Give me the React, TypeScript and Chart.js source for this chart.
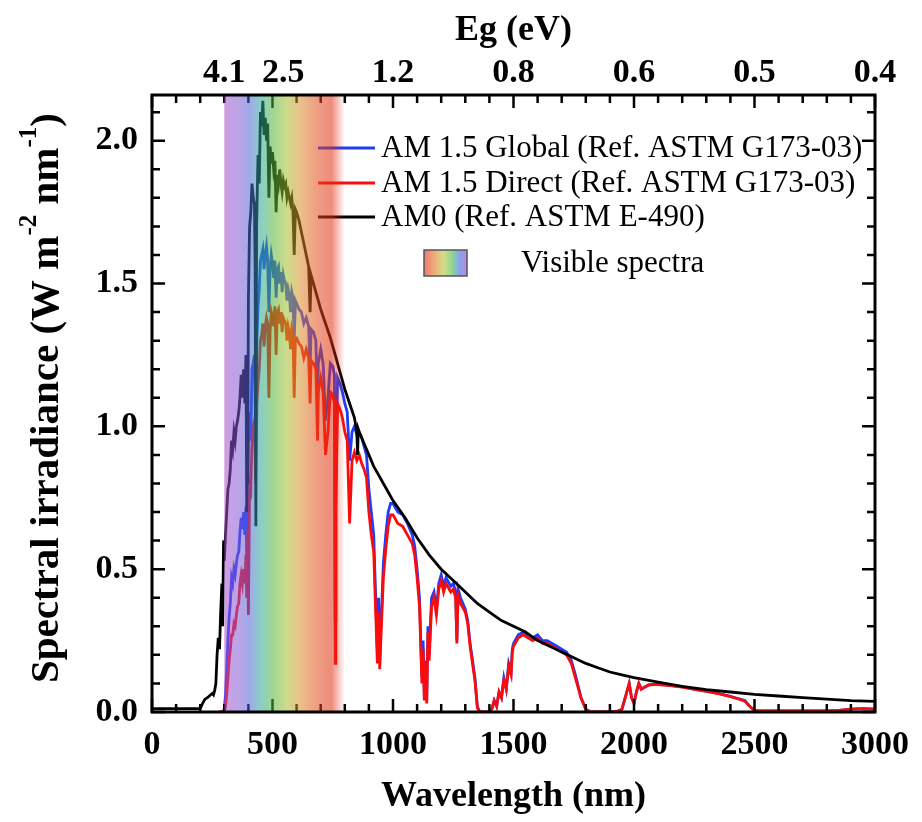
import React, { useEffect, useRef } from 'react';
import { Chart, registerables } from 'chart.js';

Chart.register(...registerables);

// ---------------- data ----------------
const am0Wavelength = [
  0, 100, 200, 210, 220, 230, 240, 250, 255, 260,
  265, 270, 275, 280, 285, 290, 293, 297, 300, 305,
  310, 315, 320, 325, 330, 335, 340, 345, 350, 355,
  360, 365, 370, 375, 380, 385, 390, 393, 395, 397,
  400, 405, 410, 415, 420, 425, 428, 431, 434, 440,
  445, 450, 455, 460, 465, 470, 475, 480, 485, 490,
  495, 500, 505, 510, 515, 520, 525, 530, 535, 540,
  545, 550, 555, 560, 565, 570, 575, 580, 585, 590,
  595, 600, 610, 620, 630, 640, 650, 656, 660, 670,
  680, 690, 700, 720, 740, 760, 780, 800, 820, 840,
  850, 853, 856, 860, 880, 900, 920, 940, 960, 980,
  1000, 1050, 1100, 1150, 1200, 1250, 1300, 1350, 1400, 1450,
  1500, 1550, 1600, 1650, 1700, 1750, 1800, 1850, 1900, 1950,
  2000, 2100, 2200, 2300, 2400, 2500, 2600, 2700, 2800, 2900,
  3000,
];
const am0Irradiance = [
  0.012, 0.012, 0.012, 0.03, 0.045, 0.05, 0.058, 0.065, 0.06, 0.075,
  0.1, 0.2, 0.26, 0.22, 0.35, 0.45, 0.3, 0.6, 0.53, 0.62,
  0.7, 0.78, 0.8, 0.85, 0.95, 0.92, 0.98, 0.95, 1.0, 1.02,
  1.05, 1.1, 1.18, 1.1, 1.2, 1.08, 1.25, 0.7, 1.15, 0.8,
  1.45, 1.7, 1.75, 1.85, 1.8, 1.78, 1.55, 0.65, 1.7, 1.95,
  1.85, 2.1, 2.05, 2.14, 2.02, 2.08, 2.0, 2.06, 1.8, 1.98,
  1.92, 1.96, 1.9, 1.93, 1.75, 1.88, 1.85, 1.9, 1.85, 1.82,
  1.86, 1.84, 1.85, 1.8, 1.82, 1.8, 1.78, 1.8, 1.75, 1.6,
  1.76, 1.75, 1.72, 1.68, 1.64, 1.6, 1.56, 1.4, 1.53, 1.5,
  1.47, 1.44, 1.41, 1.36, 1.31, 1.25, 1.19, 1.13, 1.08, 1.03,
  0.98, 0.9, 0.99, 0.98, 0.94, 0.9, 0.86, 0.83, 0.8, 0.77,
  0.74, 0.68, 0.61, 0.55, 0.5, 0.46, 0.42, 0.38, 0.35, 0.32,
  0.3, 0.28, 0.25, 0.23, 0.21, 0.19, 0.17, 0.155, 0.14, 0.13,
  0.12, 0.105, 0.09, 0.078, 0.07, 0.062, 0.056, 0.05, 0.045, 0.04,
  0.037,
];

const am15Wavelength = [
  280, 295, 300, 305, 310, 315, 320, 325, 330, 335,
  340, 345, 350, 355, 360, 365, 370, 375, 380, 385,
  390, 393, 397, 400, 405, 410, 415, 420, 425, 430,
  435, 440, 445, 450, 455, 460, 465, 470, 475, 480,
  485, 490, 495, 500, 505, 510, 515, 520, 525, 530,
  535, 540, 545, 550, 555, 560, 565, 570, 575, 580,
  585, 590, 595, 600, 610, 620, 630, 640, 650, 656,
  660, 670, 680, 687, 690, 700, 710, 720, 730, 740,
  750, 757, 760, 763, 770, 780, 790, 800, 810, 820,
  830, 840, 850, 860, 870, 880, 890, 900, 910, 920,
  930, 935, 940, 945, 950, 960, 970, 980, 990, 1000,
  1020, 1040, 1060, 1080, 1090, 1100, 1110, 1120, 1125, 1130,
  1135, 1140, 1145, 1150, 1160, 1170, 1180, 1190, 1200, 1210,
  1220, 1240, 1250, 1260, 1265, 1270, 1280, 1300, 1310, 1320,
  1330, 1340, 1350, 1360, 1380, 1400, 1410, 1420, 1430, 1440,
  1450, 1460, 1470, 1480, 1490, 1495, 1500, 1520, 1540, 1560,
  1580, 1600, 1620, 1640, 1660, 1680, 1700, 1720, 1740, 1760,
  1780, 1800, 1820, 1850, 1900, 1930, 1950, 1970, 1980, 1990,
  2000, 2010, 2020, 2030, 2040, 2060, 2080, 2100, 2150, 2200,
  2250, 2300, 2350, 2400, 2420, 2440, 2460, 2480, 2500, 2520,
  2600, 2700, 2800, 2850, 2900, 2950, 3000,
];
const am15Global = [
  0, 0, 0.01, 0.06, 0.15, 0.25, 0.33, 0.38, 0.47, 0.45,
  0.5, 0.48, 0.52, 0.55, 0.56, 0.63, 0.68, 0.64, 0.7, 0.62,
  0.72, 0.55, 0.6, 0.95, 1.05, 0.95, 1.2, 1.22, 1.25, 0.95,
  1.3, 1.42, 1.48, 1.58, 1.6, 1.62, 1.55, 1.6, 1.63, 1.58,
  1.4, 1.55, 1.6, 1.57, 1.52, 1.58, 1.45, 1.55, 1.56, 1.5,
  1.54, 1.47, 1.53, 1.51, 1.5, 1.44, 1.48, 1.46, 1.4, 1.47,
  1.45, 1.3, 1.44, 1.43, 1.41, 1.4, 1.36, 1.38, 1.35, 1.2,
  1.34, 1.33, 1.3, 1.05, 1.22, 1.27, 1.22, 1.02, 1.1, 1.22,
  1.21, 1.18, 0.32, 0.8, 1.17, 1.15, 1.12, 1.08, 1.05, 0.88,
  0.98, 1.0, 0.97, 0.98, 0.96, 0.93, 0.9, 0.78, 0.7, 0.62,
  0.35, 0.22, 0.4, 0.18, 0.3, 0.52, 0.62, 0.7, 0.73, 0.73,
  0.7, 0.69, 0.66, 0.62, 0.58, 0.5, 0.4, 0.12, 0.25, 0.05,
  0.18, 0.04, 0.3, 0.2, 0.4, 0.42, 0.36, 0.45, 0.48, 0.44,
  0.47, 0.44, 0.45, 0.42, 0.25, 0.43, 0.4, 0.36, 0.32, 0.24,
  0.18, 0.12, 0.02, 0, 0, 0, 0.01, 0.04, 0.02, 0.07,
  0.05, 0.12, 0.08, 0.17, 0.14, 0.22, 0.24, 0.27, 0.28, 0.27,
  0.26, 0.27, 0.25, 0.25, 0.24, 0.23, 0.22, 0.21, 0.18, 0.12,
  0.05, 0.01, 0, 0, 0, 0.002, 0.01, 0.07, 0.1, 0.05,
  0.03, 0.07, 0.1, 0.08, 0.085, 0.095, 0.097, 0.097, 0.093, 0.088,
  0.08, 0.073, 0.065, 0.055, 0.05, 0.045, 0.04, 0.02, 0.006, 0.004,
  0.004, 0.004, 0.004, 0.006, 0.01, 0.012, 0.01,
];
const am15Direct = [
  0, 0, 0.002, 0.02, 0.06, 0.12, 0.18, 0.22, 0.27, 0.27,
  0.31, 0.3, 0.34, 0.37, 0.38, 0.45, 0.48, 0.45, 0.5, 0.45,
  0.55, 0.4, 0.63, 0.34, 0.8, 0.78, 0.95, 1.0, 1.02, 0.8,
  1.08, 1.15, 1.2, 1.3, 1.32, 1.36, 1.28, 1.35, 1.38, 1.36,
  1.1, 1.33, 1.4, 1.38, 1.35, 1.42, 1.25, 1.4, 1.41, 1.36,
  1.4, 1.33, 1.38, 1.37, 1.36, 1.3, 1.35, 1.33, 1.27, 1.34,
  1.32, 1.1, 1.31, 1.31, 1.29, 1.28, 1.24, 1.27, 1.24, 1.08,
  1.23, 1.22, 1.2, 0.95, 1.12, 1.17, 1.12, 0.9, 0.98, 1.12,
  1.11, 1.08, 0.17, 0.7, 1.08, 1.06, 1.03, 0.98, 0.95, 0.66,
  0.88, 0.91, 0.88, 0.9, 0.87, 0.85, 0.82, 0.7, 0.62, 0.56,
  0.3, 0.17, 0.35, 0.15, 0.26, 0.47, 0.57, 0.65, 0.69, 0.69,
  0.66, 0.65, 0.62, 0.59, 0.55, 0.47, 0.37, 0.1, 0.22, 0.04,
  0.16, 0.03, 0.28, 0.18, 0.37, 0.4, 0.34, 0.43, 0.46, 0.42,
  0.45, 0.42, 0.43, 0.4, 0.24, 0.41, 0.38, 0.35, 0.31, 0.23,
  0.17, 0.11, 0.015, 0, 0, 0, 0.01, 0.04, 0.02, 0.07,
  0.05, 0.11, 0.08, 0.16, 0.13, 0.21, 0.23, 0.26, 0.27, 0.26,
  0.25, 0.26, 0.24, 0.24, 0.23, 0.22, 0.21, 0.2, 0.17, 0.11,
  0.05, 0.01, 0, 0, 0, 0.002, 0.01, 0.07, 0.1, 0.05,
  0.03, 0.07, 0.1, 0.08, 0.085, 0.094, 0.096, 0.096, 0.092, 0.087,
  0.079, 0.072, 0.064, 0.054, 0.049, 0.044, 0.038, 0.02, 0.006, 0.004,
  0.004, 0.004, 0.004, 0.006, 0.01, 0.012, 0.01,
];

const legendLabels = [
  'AM 1.5 Global (Ref. ASTM G173-03)',
  'AM 1.5 Direct (Ref. ASTM G173-03)',
  'AM0 (Ref. ASTM E-490)',
];
const bandLabel = 'Visible spectra';
const visibleBand = [300, 800];
// wavelengths (nm) where the band-gap labels sit on the top axis
const topTickWavelength = [300, 545, 1000, 1500, 2000, 2500, 3000];
const topTickLabels = ['4.1', '2.5', '1.2', '0.8', '0.6', '0.5', '0.4'];
const xTitle = 'Wavelength (nm)';
const topTitle = 'Eg (eV)';

// ---------------- styles ----------------
const FONT = '"Liberation Serif", "Times New Roman", Times, serif';
const BLUE = 'rgb(30,60,250)';
const RED = 'rgb(250,12,12)';
const BLACK = '#000';
const X_MIN = 0, X_MAX = 3000, Y_MIN = 0, Y_MAX = 2.16;
const LINE_W = 2.8;

const overlayPlugin = {
  id: 'overlay',
  afterDatasetsDraw(chart: any) {
    const { ctx, chartArea: a, scales } = chart;
    const x = scales.x;
    const y = scales.y;
    ctx.save();

    // inward ticks on all four sides
    ctx.strokeStyle = '#000';
    ctx.lineWidth = 2.5;
    ctx.beginPath();
    for (let v = X_MIN; v <= X_MAX; v += 100) {
      const px = x.getPixelForValue(v);
      const len = v % 500 === 0 ? 13 : 8;
      ctx.moveTo(px, a.bottom);
      ctx.lineTo(px, a.bottom - len);
      ctx.moveTo(px, a.top);
      ctx.lineTo(px, a.top + len);
    }
    for (let i = 0; i <= 21; i++) {
      const py = y.getPixelForValue(i / 10);
      const len = i % 5 === 0 ? 13 : 8;
      ctx.moveTo(a.left, py);
      ctx.lineTo(a.left + len, py);
      ctx.moveTo(a.right, py);
      ctx.lineTo(a.right - len, py);
    }
    ctx.stroke();

    // legend
    const lx0 = a.left + 166, lx1 = a.left + 223, tx = a.left + 229;
    const rows = [a.top + 53, a.top + 88, a.top + 122];
    const cols = [BLUE, RED, BLACK];
    ctx.font = `31px ${FONT}`;
    ctx.textBaseline = 'middle';
    ctx.textAlign = 'left';
    rows.forEach((ry, i) => {
      ctx.strokeStyle = cols[i];
      ctx.lineWidth = LINE_W;
      ctx.beginPath();
      ctx.moveTo(lx0, ry);
      ctx.lineTo(lx1, ry);
      ctx.stroke();
      ctx.fillStyle = '#000';
      ctx.fillText(legendLabels[i], tx, ry + 1);
    });
    const bx = a.left + 272, by = a.top + 155, bw = 43, bh = 26;
    const lg = ctx.createLinearGradient(bx, 0, bx + bw, 0);
    lg.addColorStop(0, 'rgb(238,120,110)');
    lg.addColorStop(0.25, 'rgb(236,175,125)');
    lg.addColorStop(0.45, 'rgb(215,220,130)');
    lg.addColorStop(0.65, 'rgb(145,215,145)');
    lg.addColorStop(0.82, 'rgb(130,165,235)');
    lg.addColorStop(1, 'rgb(195,135,225)');
    ctx.fillStyle = lg;
    ctx.fillRect(bx, by, bw, bh);
    ctx.strokeStyle = '#555';
    ctx.lineWidth = 1.5;
    ctx.strokeRect(bx, by, bw, bh);
    ctx.fillStyle = '#000';
    ctx.fillText(bandLabel, a.left + 369, by + bh / 2 + 1);

    // visible band overlay
    ctx.save();
    ctx.beginPath();
    ctx.rect(a.left, a.top, a.right - a.left, a.bottom - a.top);
    ctx.clip();
    const b0 = x.getPixelForValue(visibleBand[0]);
    const b1 = x.getPixelForValue(visibleBand[1]);
    const al = 0.55;
    const g = ctx.createLinearGradient(b0, 0, b1, 0);
    g.addColorStop(0.0, `rgba(165,80,200,${al})`);
    g.addColorStop(0.12, `rgba(130,90,210,${al})`);
    g.addColorStop(0.21, `rgba(80,100,220,${al})`);
    g.addColorStop(0.3, `rgba(40,165,150,${al})`);
    g.addColorStop(0.4, `rgba(80,180,60,${al})`);
    g.addColorStop(0.52, `rgba(165,190,40,${al})`);
    g.addColorStop(0.64, `rgba(220,135,40,${al})`);
    g.addColorStop(0.76, `rgba(225,80,30,${al})`);
    g.addColorStop(0.89, `rgba(225,45,15,${al})`);
    g.addColorStop(1.0, `rgba(225,45,15,0)`);
    ctx.fillStyle = g;
    ctx.fillRect(b0, a.top, b1 - b0, a.bottom - a.top);
    ctx.restore();

    // frame
    ctx.strokeStyle = '#000';
    ctx.lineWidth = 3;
    ctx.strokeRect(a.left, a.top, a.right - a.left, a.bottom - a.top);
    ctx.restore();
  },
  afterDraw(chart: any) {
    const { ctx, chartArea: a } = chart;
    const cx = (a.left + a.right) / 2;
    ctx.save();
    ctx.fillStyle = '#000';
    ctx.font = `bold 36px ${FONT}`;
    ctx.textAlign = 'center';
    ctx.textBaseline = 'middle';
    ctx.fillText(xTitle, cx, 797);
    ctx.fillText(topTitle, cx, 31);

    // y title with superscripts
    const main = `bold 41px ${FONT}`;
    const sup = `bold 25px ${FONT}`;
    const parts = [
      { t: 'Spectral irradiance (W m', s: false },
      { t: '-2', s: true },
      { t: ' nm', s: false },
      { t: '-1', s: true },
      { t: ')', s: false },
    ];
    let total = 0;
    parts.forEach((p) => {
      ctx.font = p.s ? sup : main;
      total += ctx.measureText(p.t).width;
    });
    ctx.translate(58, 398);
    ctx.rotate(-Math.PI / 2);
    ctx.textAlign = 'left';
    ctx.textBaseline = 'alphabetic';
    let pos = -total / 2;
    parts.forEach((p) => {
      ctx.font = p.s ? sup : main;
      ctx.fillText(p.t, pos, p.s ? -22 : 0);
      pos += ctx.measureText(p.t).width;
    });
    ctx.restore();
  },
};

export default function App() {
  const ref = useRef<HTMLCanvasElement>(null);
  useEffect(() => {
    document.body.style.margin = '0';
    const tickFont = { family: FONT, size: 34, weight: 'bold' as const };
    const mk = (xs: number[], ys: number[]) => xs.map((w, i) => ({ x: w, y: ys[i] }));
    const chart = new Chart(ref.current as HTMLCanvasElement, {
      type: 'line',
      data: {
        datasets: [
          { label: legendLabels[2], data: mk(am0Wavelength, am0Irradiance), borderColor: BLACK, borderWidth: LINE_W, pointRadius: 0, tension: 0 },
          { label: legendLabels[1], data: mk(am15Wavelength, am15Direct), borderColor: RED, borderWidth: LINE_W, pointRadius: 0, tension: 0 },
          { label: legendLabels[0], data: mk(am15Wavelength, am15Global), borderColor: BLUE, borderWidth: LINE_W, pointRadius: 0, tension: 0 },
        ],
      },
      options: {
        responsive: false,
        animation: false,
        devicePixelRatio: 1,
        layout: { padding: { left: 0, right: 35, top: 0, bottom: 0 } },
        plugins: { legend: { display: false }, tooltip: { enabled: false } },
        scales: {
          x: {
            type: 'linear',
            position: 'bottom',
            min: X_MIN,
            max: X_MAX,
            grid: { display: false, drawTicks: false },
            border: { display: false },
            ticks: { stepSize: 500, font: tickFont, color: '#000', padding: 13, maxRotation: 0, autoSkip: false, includeBounds: false, callback: (v: any) => String(v) },
            afterFit: (s: any) => { s.height = 110; },
          },
          x2: {
            type: 'linear',
            position: 'top',
            min: X_MIN,
            max: X_MAX,
            grid: { display: false, drawTicks: false },
            border: { display: false },
            afterBuildTicks: (s: any) => { s.ticks = topTickWavelength.map((v) => ({ value: v })); },
            ticks: { font: tickFont, color: '#000', padding: 1, maxRotation: 0, autoSkip: false, callback: (_v: any, i: number) => topTickLabels[i] },
            afterFit: (s: any) => { s.height = 95; },
          },
          y: {
            type: 'linear',
            min: Y_MIN,
            max: Y_MAX,
            grid: { display: false, drawTicks: false },
            border: { display: false },
            ticks: { stepSize: 0.5, includeBounds: false, font: tickFont, color: '#000', padding: 14, callback: (v: any) => Number(v).toFixed(1) },
            afterFit: (s: any) => { s.width = 152; },
          },
        },
      } as any,
      plugins: [overlayPlugin],
    });
    return () => chart.destroy();
  }, []);
  return (
    <div style={{ position: 'absolute', left: 0, top: 0, width: 922, height: 822, background: '#fff' }}>
      <canvas ref={ref} width={922} height={822} style={{ display: 'block', width: 922, height: 822 }} />
    </div>
  );
}
